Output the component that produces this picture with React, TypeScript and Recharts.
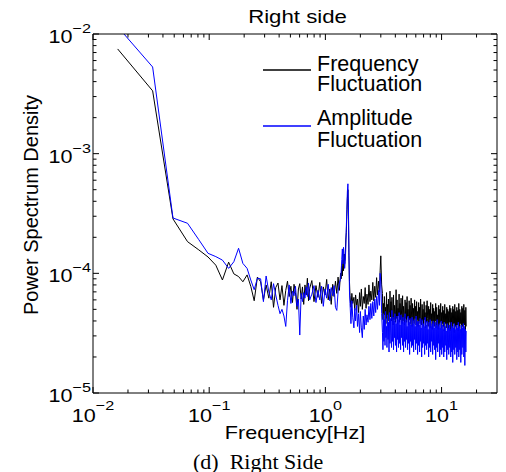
import React from 'react';
import { LineChart, Line, XAxis, YAxis, Legend, Label } from 'recharts';

// frequency bins [Hz]
const freqHz = [
  0.0163, 0.0326, 0.0488, 0.0651, 0.0814, 0.0977, 0.114, 0.13, 0.147, 0.163, 0.179, 0.195, 0.212, 0.228, 0.244, 0.26, 0.277, 0.293,
  0.309, 0.326, 0.342, 0.358, 0.374, 0.391, 0.407, 0.423, 0.44, 0.456, 0.472, 0.488, 0.505, 0.521, 0.537, 0.553, 0.57, 0.586, 0.602, 0.619, 0.635, 0.651, 0.667, 0.684, 0.7, 0.716, 0.733,
  0.765, 0.798, 0.83, 0.863, 0.895, 0.928, 0.96, 0.993, 1.026, 1.058, 1.091, 1.123, 1.156, 1.188, 1.221, 1.254, 1.286, 1.319, 1.351,
  1.368, 1.384, 1.4, 1.416, 1.433, 1.449, 1.465, 1.481, 1.498, 1.514, 1.53, 1.546, 1.563, 1.579, 1.595, 1.612,
  1.63, 1.66, 1.69, 1.72, 1.76, 1.79, 1.82, 1.86, 1.89, 1.93, 1.97, 2.0, 2.04, 2.08, 2.12, 2.16, 2.2, 2.24, 2.28, 2.33, 2.37, 2.42, 2.46, 2.51, 2.56, 2.61, 2.66, 2.71, 2.76, 2.81, 2.87, 2.92, 2.96, 3.0, 3.05,
  3.1, 3.13, 3.16, 3.19, 3.22, 3.26, 3.29, 3.32, 3.36, 3.39,
  3.42, 3.46, 3.49, 3.53, 3.56, 3.6, 3.63, 3.67, 3.71, 3.74,
  3.78, 3.82, 3.86, 3.9, 3.94, 3.97, 4.01, 4.06, 4.1, 4.14,
  4.18, 4.22, 4.26, 4.31, 4.35, 4.39, 4.44, 4.48, 4.53, 4.57,
  4.62, 4.66, 4.71, 4.76, 4.8, 4.85, 4.9, 4.95, 5.0, 5.05,
  5.1, 5.15, 5.2, 5.26, 5.31, 5.36, 5.41, 5.47, 5.52, 5.58,
  5.63, 5.69, 5.75, 5.8, 5.86, 5.92, 5.98, 6.04, 6.1, 6.16,
  6.22, 6.28, 6.35, 6.41, 6.47, 6.54, 6.6, 6.67, 6.74, 6.8,
  6.87, 6.94, 7.01, 7.08, 7.15, 7.22, 7.29, 7.37, 7.44, 7.51,
  7.59, 7.66, 7.74, 7.82, 7.9, 7.98, 8.06, 8.14, 8.22, 8.3,
  8.38, 8.47, 8.55, 8.64, 8.72, 8.81, 8.9, 8.99, 9.08, 9.17,
  9.26, 9.35, 9.45, 9.54, 9.64, 9.73, 9.83, 9.93, 10.03, 10.13,
  10.23, 10.33, 10.44, 10.54, 10.65, 10.75, 10.86, 10.97, 11.08, 11.19,
  11.3, 11.41, 11.53, 11.64, 11.76, 11.88, 12.0, 12.12, 12.24, 12.36,
  12.48, 12.61, 12.74, 12.86, 12.99, 13.12, 13.25, 13.39, 13.52, 13.66,
  13.79, 13.93, 14.07, 14.21, 14.35, 14.5, 14.64, 14.79, 14.94, 15.09,
  15.24, 15.39, 15.54, 15.7, 15.86, 16.02, 16.18, 16.3,
];

// Frequency Fluctuation (black)
const freqFluct = [
  7.5e-3, 3.35e-3, 2.85e-4, 1.84e-4, 1.57e-4, 1.37e-4, 1.17e-4, 8.8e-5, 1.24e-4, 9.9e-5, 9.4e-5, 8.5e-5, 9.7e-5, 7.8e-5, 5.9e-5, 9.3e-5, 8.5e-5, 6.0e-5,
  8.0e-5, 6.2e-5, 8.5e-5, 5.2e-5, 7.6e-5, 8.3e-5, 6.0e-5, 7.9e-5, 5.4e-5, 7.2e-5, 8.6e-5, 6.4e-5, 7.8e-5, 5.7e-5, 8.1e-5, 6.9e-5, 5.0e-5, 7.4e-5, 8.2e-5, 6.1e-5, 7.7e-5, 5.5e-5, 8.0e-5, 6.6e-5, 9.1e-5, 5.9e-5, 7.5e-5,
  8.7e-5, 5.8e-5, 7.9e-5, 6.3e-5, 8.4e-5, 5.6e-5, 7.7e-5, 6.6e-5, 8.9e-5, 6.0e-5, 7.4e-5, 5.5e-5, 8.1e-5, 6.4e-5, 8.6e-5, 6.8e-5, 9.3e-5, 7.2e-5, 1.0e-4,
  9.0e-5, 1.15e-4, 9.5e-5, 1.3e-4, 1.05e-4, 1.45e-4, 1.2e-4, 1.35e-4, 1.9e-4, 2.2e-4, 3.0e-4, 4.2e-4, 5.0e-4, 3.2e-4, 1.4e-4, 8.5e-5,
  6.5e-5, 5.2e-5, 6.8e-5, 5.6e-5, 6.3e-5, 4.9e-5, 6.6e-5, 5.4e-5, 6.1e-5, 4.7e-5, 6.9e-5, 5.3e-5, 7.4e-5, 5.0e-5, 6.4e-5, 5.6e-5, 7.6e-5, 5.1e-5, 6.7e-5, 5.5e-5, 8.0e-5, 5.8e-5, 7.1e-5, 6.0e-5, 8.4e-5, 5.9e-5, 7.8e-5, 6.3e-5, 9.2e-5, 6.6e-5, 8.6e-5, 7.0e-5, 1.05e-4, 1.4e-4, 8.0e-5,
  6.8e-5, 4.1e-5, 5.6e-5, 3.9e-5, 6.4e-5, 4.5e-5, 5.2e-5, 3.8e-5, 6.9e-5, 4.2e-5,
  5.5e-5, 4.0e-5, 6.1e-5, 4.6e-5, 3.9e-5, 7.1e-5, 4.3e-5, 5.8e-5, 4.0e-5, 6.3e-5,
  4.4e-5, 3.7e-5, 6.6e-5, 4.1e-5, 5.4e-5, 4.8e-5, 3.9e-5, 7.3e-5, 4.2e-5, 6.0e-5,
  3.8e-5, 5.1e-5, 4.4e-5, 6.7e-5, 3.9e-5, 5.6e-5, 4.1e-5, 6.2e-5, 4.5e-5, 3.8e-5,
  6.5e-5, 4.0e-5, 5.3e-5, 4.6e-5, 3.7e-5, 6.0e-5, 4.2e-5, 5.7e-5, 3.9e-5, 6.4e-5,
  4.3e-5, 5.0e-5, 3.7e-5, 5.9e-5, 4.1e-5, 5.4e-5, 3.8e-5, 6.2e-5, 4.4e-5, 3.6e-5,
  5.6e-5, 4.0e-5, 5.1e-5, 3.8e-5, 6.0e-5, 4.2e-5, 5.3e-5, 3.7e-5, 5.8e-5, 4.1e-5,
  4.8e-5, 3.6e-5, 5.7e-5, 4.0e-5, 5.2e-5, 3.8e-5, 6.1e-5, 4.3e-5, 3.7e-5, 5.5e-5,
  4.0e-5, 5.0e-5, 3.6e-5, 5.8e-5, 4.1e-5, 4.7e-5, 3.5e-5, 5.4e-5, 3.9e-5, 5.9e-5,
  4.2e-5, 3.6e-5, 5.3e-5, 3.9e-5, 5.0e-5, 3.5e-5, 5.7e-5, 4.0e-5, 4.6e-5, 3.4e-5,
  5.5e-5, 3.8e-5, 5.1e-5, 3.6e-5, 4.8e-5, 4.0e-5, 5.6e-5, 3.5e-5, 5.2e-5, 3.9e-5,
  4.5e-5, 3.4e-5, 5.4e-5, 3.7e-5, 5.0e-5, 3.9e-5, 5.6e-5, 3.5e-5, 4.7e-5, 3.8e-5,
  5.3e-5, 3.6e-5, 4.9e-5, 3.3e-5, 5.5e-5, 3.8e-5, 4.6e-5, 3.5e-5, 5.2e-5, 3.7e-5,
  5.0e-5, 3.4e-5, 4.8e-5, 3.9e-5, 5.4e-5, 3.3e-5, 5.1e-5, 3.6e-5, 4.7e-5, 3.5e-5,
  5.3e-5, 3.8e-5, 5.0e-5, 3.2e-5, 5.5e-5, 3.6e-5, 4.8e-5, 3.4e-5, 5.2e-5, 3.7e-5,
  4.9e-5, 3.3e-5, 5.6e-5, 3.5e-5, 5.0e-5, 3.8e-5, 4.7e-5, 3.2e-5, 5.3e-5, 3.6e-5,
  5.1e-5, 3.4e-5, 5.5e-5, 3.7e-5, 4.9e-5, 3.3e-5, 5.2e-5, 3.6e-5,
];

// Amplitude Fluctuation (blue)
const ampFluct = [
  1.15e-2, 5.3e-3, 2.9e-4, 2.62e-4, 1.91e-4, 1.47e-4, 1.38e-4, 1.29e-4, 1.1e-4, 1.25e-4, 1.62e-4, 1.21e-4, 1.1e-4, 8.8e-5, 7.3e-5, 9.1e-5, 9.0e-5, 5.8e-5,
  9.5e-5, 7.0e-5, 6.0e-5, 8.2e-5, 6.6e-5, 5.4e-5, 4.6e-5, 5.0e-5, 4.4e-5, 3.6e-5, 5.9e-5, 8.0e-5, 5.6e-5, 7.1e-5, 6.5e-5, 7.8e-5, 5.3e-5, 6.1e-5, 3.05e-5, 6.8e-5, 5.8e-5, 6.9e-5, 6.2e-5, 7.7e-5, 6.4e-5, 8.3e-5, 6.0e-5,
  6.7e-5, 7.9e-5, 5.7e-5, 7.2e-5, 6.0e-5, 7.8e-5, 5.3e-5, 7.4e-5, 6.2e-5, 8.1e-5, 5.9e-5, 7.6e-5, 6.5e-5, 7.9e-5, 5.2e-5, 4.9e-5, 7.0e-5, 8.3e-5, 9.0e-5,
  1.05e-4, 1.3e-4, 1.6e-4, 1.2e-4, 1.65e-4, 1.4e-4, 1.1e-4, 1.25e-4, 1.6e-4, 2.4e-4, 3.4e-4, 4.8e-4, 5.6e-4, 3.6e-4, 1.5e-4, 7.0e-5,
  5.6e-5, 3.8e-5, 5.9e-5, 4.3e-5, 3.5e-5, 5.1e-5, 4.0e-5, 5.4e-5, 3.6e-5, 4.6e-5, 3.2e-5, 4.8e-5, 3.5e-5, 2.9e-5, 4.4e-5, 3.4e-5, 5.0e-5, 3.7e-5, 4.5e-5, 3.9e-5, 5.3e-5, 4.1e-5, 5.6e-5, 4.2e-5, 5.8e-5, 4.4e-5, 6.1e-5, 4.7e-5, 6.4e-5, 5.0e-5, 7.2e-5, 5.4e-5, 1.0e-4, 8.5e-5, 4.6e-5,
  3.2e-5, 2.3e-5, 4.6e-5, 2.7e-5, 4.1e-5, 2.5e-5, 4.8e-5, 2.9e-5, 3.6e-5, 2.4e-5,
  4.5e-5, 2.8e-5, 3.9e-5, 2.2e-5, 4.7e-5, 2.6e-5, 4.2e-5, 3.0e-5, 2.4e-5, 4.9e-5,
  2.7e-5, 4.3e-5, 2.3e-5, 4.0e-5, 2.9e-5, 4.6e-5, 2.5e-5, 3.8e-5, 2.2e-5, 4.4e-5,
  2.8e-5, 4.1e-5, 2.4e-5, 4.7e-5, 2.6e-5, 3.7e-5, 2.3e-5, 4.5e-5, 2.9e-5, 4.0e-5,
  2.5e-5, 4.3e-5, 2.2e-5, 3.9e-5, 2.7e-5, 4.6e-5, 2.4e-5, 4.1e-5, 2.8e-5, 3.6e-5,
  2.3e-5, 4.4e-5, 2.6e-5, 3.9e-5, 2.1e-5, 4.2e-5, 2.7e-5, 3.7e-5, 2.4e-5, 4.3e-5,
  2.5e-5, 3.8e-5, 2.2e-5, 4.1e-5, 2.8e-5, 3.6e-5, 2.3e-5, 4.4e-5, 2.6e-5, 3.9e-5,
  2.1e-5, 4.0e-5, 2.5e-5, 3.7e-5, 2.2e-5, 4.2e-5, 2.7e-5, 3.5e-5, 2.0e-5, 4.1e-5,
  2.4e-5, 3.8e-5, 2.6e-5, 3.6e-5, 2.1e-5, 4.3e-5, 2.5e-5, 3.7e-5, 2.3e-5, 4.0e-5,
  2.6e-5, 3.4e-5, 2.0e-5, 3.9e-5, 2.4e-5, 4.1e-5, 2.2e-5, 3.6e-5, 2.7e-5, 3.8e-5,
  2.1e-5, 4.0e-5, 2.5e-5, 3.5e-5, 2.3e-5, 3.9e-5, 1.9e-5, 3.7e-5, 2.4e-5, 4.1e-5,
  2.2e-5, 3.6e-5, 2.6e-5, 3.8e-5, 2.0e-5, 3.5e-5, 2.3e-5, 4.0e-5, 2.1e-5, 3.7e-5,
  2.4e-5, 3.4e-5, 2.0e-5, 3.9e-5, 2.2e-5, 3.6e-5, 2.5e-5, 3.3e-5, 1.9e-5, 3.8e-5,
  2.3e-5, 3.5e-5, 2.1e-5, 3.7e-5, 2.4e-5, 3.4e-5, 2.0e-5, 3.9e-5, 2.2e-5, 3.6e-5,
  1.8e-5, 3.5e-5, 2.3e-5, 3.8e-5, 2.1e-5, 3.4e-5, 2.4e-5, 3.7e-5, 1.9e-5, 3.5e-5,
  2.2e-5, 3.9e-5, 2.0e-5, 3.6e-5, 2.3e-5, 3.4e-5, 1.8e-5, 3.7e-5, 2.1e-5, 3.5e-5,
  2.4e-5, 3.8e-5, 2.0e-5, 3.6e-5, 1.7e-5, 3.4e-5, 2.2e-5, 3.3e-5,
];

const xTicks = [
  0.01, 0.02, 0.03, 0.04, 0.05, 0.06, 0.07, 0.08, 0.09,
  0.1, 0.2, 0.3, 0.4, 0.5, 0.6, 0.7, 0.8, 0.9,
  1, 2, 3, 4, 5, 6, 7, 8, 9,
  10, 20,
];
const yTicks = [
  1e-5, 2e-5, 3e-5, 4e-5, 5e-5, 6e-5, 7e-5, 8e-5, 9e-5,
  1e-4, 2e-4, 3e-4, 4e-4, 5e-4, 6e-4, 7e-4, 8e-4, 9e-4,
  1e-3, 2e-3, 3e-3, 4e-3, 5e-3, 6e-3, 7e-3, 8e-3, 9e-3,
  1e-2,
];

const data = freqHz.map((f, i) => ({ f, freq: freqFluct[i], amp: ampFluct[i] }));

const SANS = '"Liberation Sans", Arial, Helvetica, sans-serif';
const SERIF = '"Liberation Serif", "Times New Roman", serif';

const isMajor = (v: number) => Math.abs(Math.log10(v) - Math.round(Math.log10(v))) < 1e-6;
const expText = (v: number) => {
  const e = Math.round(Math.log10(v));
  return e < 0 ? '\u2212' + Math.abs(e) : String(e);
};

const BottomTick = ({ x, y, payload }: any) => {
  const major = isMajor(payload.value);
  return (
    <g>
      <line x1={x} x2={x} y1={y} y2={y - (major ? 6 : 3.5)} stroke="#000" />
      {major && (
        <text transform={`translate(${x},${y + 28.7}) scale(1.2,1)`} textAnchor="middle" fontFamily={SANS} fontSize={18} fill="#000">
          10<tspan dy={-11.5} fontSize={13.5}>{expText(payload.value)}</tspan>
        </text>
      )}
    </g>
  );
};

const TopTick = ({ x, y, payload }: any) => {
  const major = isMajor(payload.value);
  return <line x1={x} x2={x} y1={y} y2={y + (major ? 6 : 3.5)} stroke="#000" />;
};

const LeftTick = ({ x, y, payload }: any) => {
  const major = isMajor(payload.value);
  return (
    <g>
      <line x1={x} x2={x + (major ? 6 : 3.5)} y1={y} y2={y} stroke="#000" />
      {major && (
        <text transform={`translate(${x - 2},${y + 9}) scale(1.2,1)`} textAnchor="end" fontFamily={SANS} fontSize={18} fill="#000">
          10<tspan dy={-10} fontSize={13.5}>{expText(payload.value)}</tspan>
        </text>
      )}
    </g>
  );
};

const RightTick = ({ x, y, payload }: any) => {
  const major = isMajor(payload.value);
  return <line x1={x} x2={x - (major ? 6 : 3.5)} y1={y} y2={y} stroke="#000" />;
};

const LegendBox = () => (
  <svg width={220} height={110} style={{ display: 'block' }}>
    <line x1={0} x2={48} y1={25} y2={25} stroke="#000" strokeWidth={1.3} />
    <text x={54} y={26} fontFamily={SANS} fontSize={21.5} fill="#000">Frequency</text>
    <text x={54} y={46} fontFamily={SANS} fontSize={21.5} fill="#000">Fluctuation</text>
    <line x1={0} x2={48} y1={81} y2={81} stroke="#0000ff" strokeWidth={1.3} />
    <text x={54} y={80} fontFamily={SANS} fontSize={21.5} fill="#000">Amplitude</text>
    <text x={54} y={101.5} fontFamily={SANS} fontSize={21.5} fill="#000">Fluctuation</text>
  </svg>
);

export default function App() {
  return (
    <div style={{ position: 'absolute', left: 0, top: 0, background: '#fff' }}>
      <LineChart width={506} height={472} data={data} margin={{ top: 33, right: 8, bottom: 78, left: 92 }}>
        <XAxis
          dataKey="f"
          type="number"
          scale="log"
          domain={[0.01, 30]}
          allowDataOverflow
          ticks={xTicks}
          interval={0}
          height={1}
          tickSize={0}
          tickMargin={0}
          tickLine={false}
          axisLine={{ stroke: '#000' }}
          tick={<BottomTick />}
        >
          <Label
            content={() => (
              <g>
                <text transform="translate(295,438.5) scale(1.2,1)" textAnchor="middle" fontFamily={SANS} fontSize={18} fill="#000">
                  Frequency[Hz]
                </text>
                <text x={193} y={469} fontFamily={SERIF} fontSize={22} fill="#000">
                  (d)&#160;&#160;Right Side
                </text>
              </g>
            )}
          />
        </XAxis>
        <XAxis
          xAxisId="top"
          dataKey="f"
          type="number"
          scale="log"
          orientation="top"
          domain={[0.01, 30]}
          allowDataOverflow
          ticks={xTicks}
          interval={0}
          height={1}
          tickSize={0}
          tickMargin={0}
          tickLine={false}
          axisLine={{ stroke: '#000' }}
          tick={<TopTick />}
        >
          <Label
            content={() => (
              <text transform="translate(297.5,23.3) scale(1.2,1)" textAnchor="middle" fontFamily={SANS} fontSize={18.5} fill="#000">
                Right side
              </text>
            )}
          />
        </XAxis>
        <YAxis
          type="number"
          scale="log"
          domain={[1e-5, 1e-2]}
          allowDataOverflow
          ticks={yTicks}
          interval={0}
          width={1}
          tickSize={0}
          tickMargin={0}
          tickLine={false}
          axisLine={{ stroke: '#000' }}
          tick={<LeftTick />}
        >
          <Label
            content={() => (
              <text transform="translate(38,205) rotate(-90)" textAnchor="middle" fontFamily={SANS} fontSize={20} fill="#000">
                Power Spectrum Density
              </text>
            )}
          />
        </YAxis>
        <YAxis
          yAxisId="right"
          orientation="right"
          type="number"
          scale="log"
          domain={[1e-5, 1e-2]}
          allowDataOverflow
          ticks={yTicks}
          interval={0}
          width={1}
          tickSize={0}
          tickMargin={0}
          tickLine={false}
          axisLine={{ stroke: '#000' }}
          tick={<RightTick />}
        />
        <Legend
          layout="vertical"
          align="center"
          verticalAlign="middle"
          content={<LegendBox />}
          wrapperStyle={{ position: 'absolute', left: 263, top: 45, width: 220 }}
        />
        <Line type="linear" dataKey="freq" stroke="#000" strokeWidth={1} dot={false} isAnimationActive={false} />
        <Line type="linear" dataKey="amp" stroke="#0000ff" strokeWidth={1} dot={false} isAnimationActive={false} />
      </LineChart>
    </div>
  );
}
